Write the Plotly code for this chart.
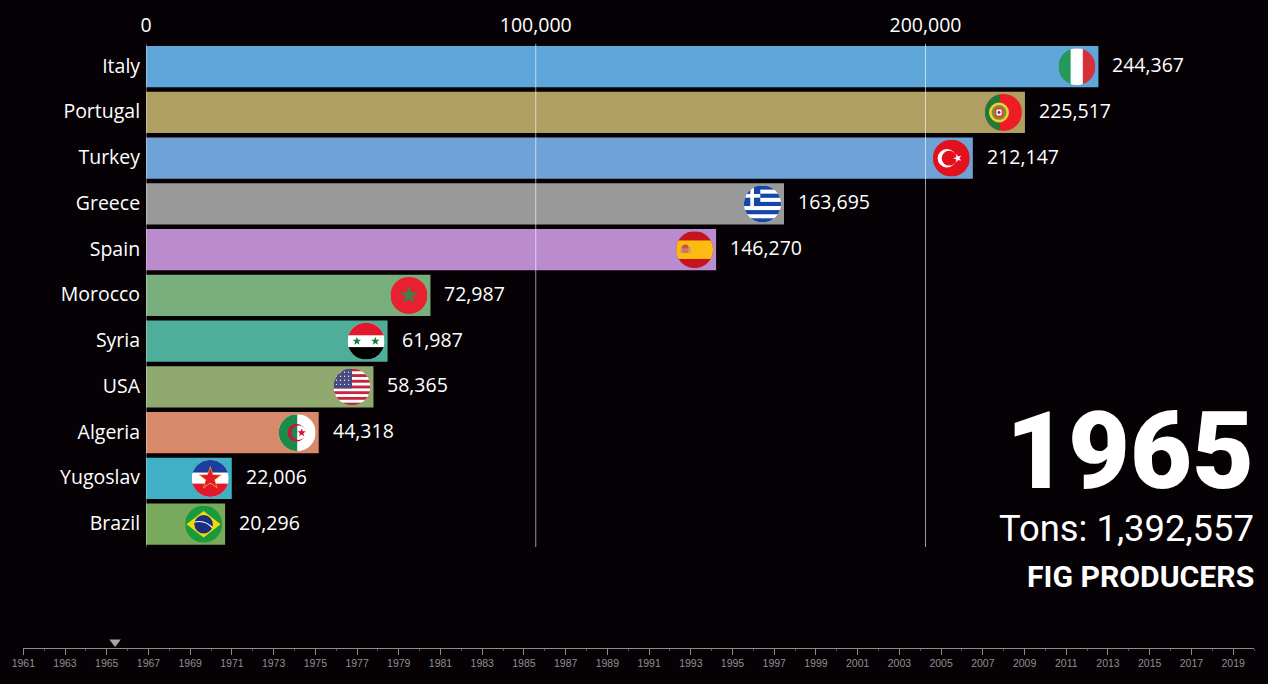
import base64
import math
import plotly.graph_objects as go

countries = ["Italy", "Portugal", "Turkey", "Greece", "Spain", "Morocco", "Syria", "USA", "Algeria", "Yugoslav", "Brazil"]
tons = [244367, 225517, 212147, 163695, 146270, 72987, 61987, 58365, 44318, 22006, 20296]
bar_colors = ["#5fa7db", "#b09f62", "#6fa3d8", "#999999", "#ba8ccd", "#79ae7d", "#4fae9a", "#90a96e", "#d8896a", "#3fb0c6", "#79a95c"]
value_ticks = [0, 100000, 200000]
current_year = 1965
marker_year = 1965.4
year_first = 1961
year_last = 2020
total_label = "Tons: 1,392,557"
title_label = "FIG PRODUCERS"

BG = "#060105"
W, H = 1268, 684
PX_PER_TON = (925.5 - 146) / 200000
FLAG_D = 37
FLAG_INSET = 21.5


def star(cx, cy, r, rot=0):
    pts = []
    for i in range(10):
        a = math.radians(-90 + rot + i * 36)
        rr = r if i % 2 == 0 else r * 0.4
        pts.append(f"{cx + rr * math.cos(a):.2f},{cy + rr * math.sin(a):.2f}")
    return " ".join(pts)


flags = {
    "Italy": '<rect width="34" height="100" fill="#239a5b"/><rect x="33" width="34" height="100" fill="#fff"/><rect x="66" width="34" height="100" fill="#d8303a"/>',
    "Portugal": '<rect width="100" height="100" fill="#ee1c25"/><rect width="40" height="100" fill="#1f7a35"/><circle cx="38" cy="50" r="27" fill="#f0cf3a"/><circle cx="38" cy="50" r="20" fill="#6f9a3a"/><rect x="26" y="36" width="24" height="28" rx="6" fill="#e8452f"/><rect x="31" y="42" width="14" height="16" rx="3" fill="#fff"/><circle cx="38" cy="50" r="4" fill="#2b4aa8"/>',
    "Turkey": f'<rect width="100" height="100" fill="#e3101e"/><circle cx="38" cy="50" r="25" fill="#fff"/><circle cx="44" cy="50" r="20" fill="#e3101e"/><polygon points="{star(67, 50, 12, -18)}" fill="#fff"/>',
    "Greece": '<rect width="100" height="100" fill="#fff"/>' + "".join(f'<rect y="{y}" width="100" height="11.2" fill="#1546a8"/>' for y in (0, 22.2, 44.4, 66.6, 88.8)) + '<rect width="44" height="55.6" fill="#1546a8"/><rect x="17" width="10" height="55.6" fill="#fff"/><rect y="23" width="44" height="10" fill="#fff"/>',
    "Spain": '<rect width="100" height="100" fill="#c4141d"/><rect y="25" width="100" height="50" fill="#fbbb10"/><circle cx="25" cy="45" r="9" fill="#c8553a"/><rect x="16" y="46" width="18" height="13" fill="#cf7a5a"/><rect x="11" y="42" width="4" height="18" fill="#b8a0a0"/><rect x="36" y="42" width="4" height="18" fill="#b8a0a0"/>',
    "Morocco": f'<rect width="100" height="100" fill="#e8202f"/><polygon points="{star(50, 50, 26)}" fill="#4a7c46"/>',
    "Syria": f'<rect width="100" height="100" fill="#fff"/><rect width="100" height="34" fill="#e3182c"/><rect y="66" width="100" height="34" fill="#000"/><polygon points="{star(25, 50, 12)}" fill="#157a3c"/><polygon points="{star(75, 50, 12)}" fill="#157a3c"/>',
    "USA": '<rect width="100" height="100" fill="#fff"/>' + "".join(f'<rect y="{y}" width="100" height="7.7" fill="#c1273d"/>' for y in (0, 15.4, 30.8, 46.2, 61.6, 77, 92.4)) + '<rect width="50" height="54" fill="#4a4a80"/>' + "".join(f'<circle cx="{x}" cy="{y}" r="1.8" fill="#fff"/>' for x in (8, 19, 30, 41) for y in (10, 21, 32, 43)),
    "Algeria": f'<rect width="100" height="100" fill="#fff"/><rect width="50" height="100" fill="#1c8a4a"/><circle cx="48" cy="50" r="24" fill="#c4173b"/><circle cx="54" cy="50" r="19.5" fill="#1c8a4a" clip-path="url(#lh)"/><circle cx="54" cy="50" r="19.5" fill="#fff" clip-path="url(#rh)"/><polygon points="{star(62, 50, 12)}" fill="#c4173b"/>',
    "Yugoslav": f'<rect width="100" height="100" fill="#fff"/><rect width="100" height="34" fill="#1c3f9e"/><rect y="64" width="100" height="36" fill="#e3172c"/><polygon points="{star(50, 50, 34)}" fill="#f0a020"/><polygon points="{star(50, 50, 28)}" fill="#e3172c"/>',
    "Brazil": '<rect width="100" height="100" fill="#199b3c"/><polygon points="50,14 96,50 50,86 4,50" fill="#f4d80e"/><circle cx="50" cy="50" r="25" fill="#1b2f80"/><path d="M26 44 Q55 38 74 60" stroke="#fff" stroke-width="3" fill="none"/>',
}


def flag_uri(body):
    svg = (
        '<svg xmlns="http://www.w3.org/2000/svg" width="100" height="100" viewBox="0 0 100 100">'
        '<defs><clipPath id="c"><circle cx="50" cy="50" r="50"/></clipPath>'
        '<clipPath id="lh"><rect width="50" height="100"/></clipPath>'
        '<clipPath id="rh"><rect x="50" width="50" height="100"/></clipPath></defs>'
        f'<g clip-path="url(#c)">{body}</g></svg>'
    )
    return "data:image/svg+xml;base64," + base64.b64encode(svg.encode()).decode()


rows = list(range(len(countries)))
TOP_PX, BOT_PX = 43.5, 547
ROW_PX = 45.75
y_range = [(BOT_PX - 66.7) / ROW_PX, (TOP_PX - 66.7) / ROW_PX]
x_max = (W - 146) / PX_PER_TON

fig = go.Figure()
fig.add_trace(go.Bar(x=tons, y=rows, orientation="h", width=0.9,
                     marker=dict(color=bar_colors, line=dict(width=0)), hoverinfo="skip"))

# Gridlines sit over the bars in the reference.
gx, gy = [], []
for t in value_ticks:
    gx += [t, t, None]
    gy += [y_range[0], y_range[1], None]
fig.add_trace(go.Scatter(x=gx, y=gy, mode="lines", cliponaxis=False,
                         line=dict(color="rgba(255,255,255,0.6)", width=1), hoverinfo="skip"))

# Timeline position marker
fig.add_trace(go.Scatter(x=[marker_year], y=[0.5], xaxis="x2", yaxis="y2", mode="markers",
                         marker=dict(symbol="triangle-down", size=10, color="#a5a5a5"), hoverinfo="skip"))

annotations = []
for i, (c, v) in enumerate(zip(countries, tons)):
    annotations.append(dict(x=v, y=i, xref="x", yref="y", text=f"{v:,}", showarrow=False, xanchor="left",
                            yanchor="middle", xshift=12, yshift=2, font=dict(family="Open Sans", size=19.5, color="#ffffff")))

RIGHT = 1256 / W
annotations += [
    dict(x=RIGHT, y=1 - 451 / H, xref="paper", yref="paper", text=str(current_year), showarrow=False,
         xanchor="right", yanchor="middle", font=dict(family="Roboto", size=107, color="#ffffff", weight=900)),
    dict(x=RIGHT, y=1 - 528 / H, xref="paper", yref="paper", text=total_label, showarrow=False,
         xanchor="right", yanchor="middle", font=dict(family="Roboto", size=36.4, color="#ffffff")),
    dict(x=RIGHT, y=1 - 576 / H, xref="paper", yref="paper", text=title_label, showarrow=False,
         xanchor="right", yanchor="middle", font=dict(family="Roboto", size=30.2, color="#ffffff", weight="bold")),
]

images = []
for i, (c, v) in enumerate(zip(countries, tons)):
    images.append(dict(source=flag_uri(flags[c]), xref="x", yref="y",
                       x=v - FLAG_INSET / PX_PER_TON, y=i,
                       sizex=FLAG_D / PX_PER_TON, sizey=FLAG_D / ROW_PX,
                       xanchor="center", yanchor="middle", sizing="contain", layer="above"))

fig.update_layout(
    width=W, height=H, autosize=False, showlegend=False,
    margin=dict(l=0, r=0, t=0, b=0, autoexpand=False),
    paper_bgcolor=BG, plot_bgcolor=BG,
    barmode="overlay",
    annotations=annotations, images=images,
    xaxis=dict(domain=[146 / W, 1], range=[0, x_max], side="top", tickvals=value_ticks, tickformat=",",
               showgrid=False, zeroline=False, showline=False, ticks="outside", ticklen=3, tickcolor="rgba(0,0,0,0)",
               tickfont=dict(family="Open Sans", size=19.5, color="#ffffff"), anchor="y"),
    yaxis=dict(domain=[1 - BOT_PX / H, 1 - TOP_PX / H], range=y_range, tickvals=rows, ticktext=countries,
               showgrid=False, zeroline=False, showline=False,
               ticks="outside", ticklen=1, tickcolor="rgba(0,0,0,0)", ticklabelshift=1,
               tickfont=dict(family="Open Sans", size=19.5, color="#ffffff"), anchor="x"),
    xaxis2=dict(domain=[23.3 / W, 1254 / W], range=[year_first, year_last], dtick=2, tick0=year_first,
                side="bottom", showgrid=False, zeroline=False, showline=True, linecolor="#8a8a8a", linewidth=1,
                ticks="outside", ticklen=6, tickcolor="#8a8a8a", tickwidth=1, ticklabelstandoff=-1,
                minor=dict(dtick=1, ticks="outside", ticklen=2, tickcolor="#555555", showgrid=False),
                tickfont=dict(family="Liberation Sans", size=10.5, color="#8f8f8f"), anchor="y2"),
    yaxis2=dict(domain=[1 - 648 / H, 1 - 636 / H], range=[0, 1], visible=False, anchor="x2"),
)

fig.write_html("out.html", include_plotlyjs=True, config={"displayModeBar": False},
               post_script="document.body.style.margin='0';document.body.style.background='" + BG + "';document.documentElement.style.overflow='hidden';")
